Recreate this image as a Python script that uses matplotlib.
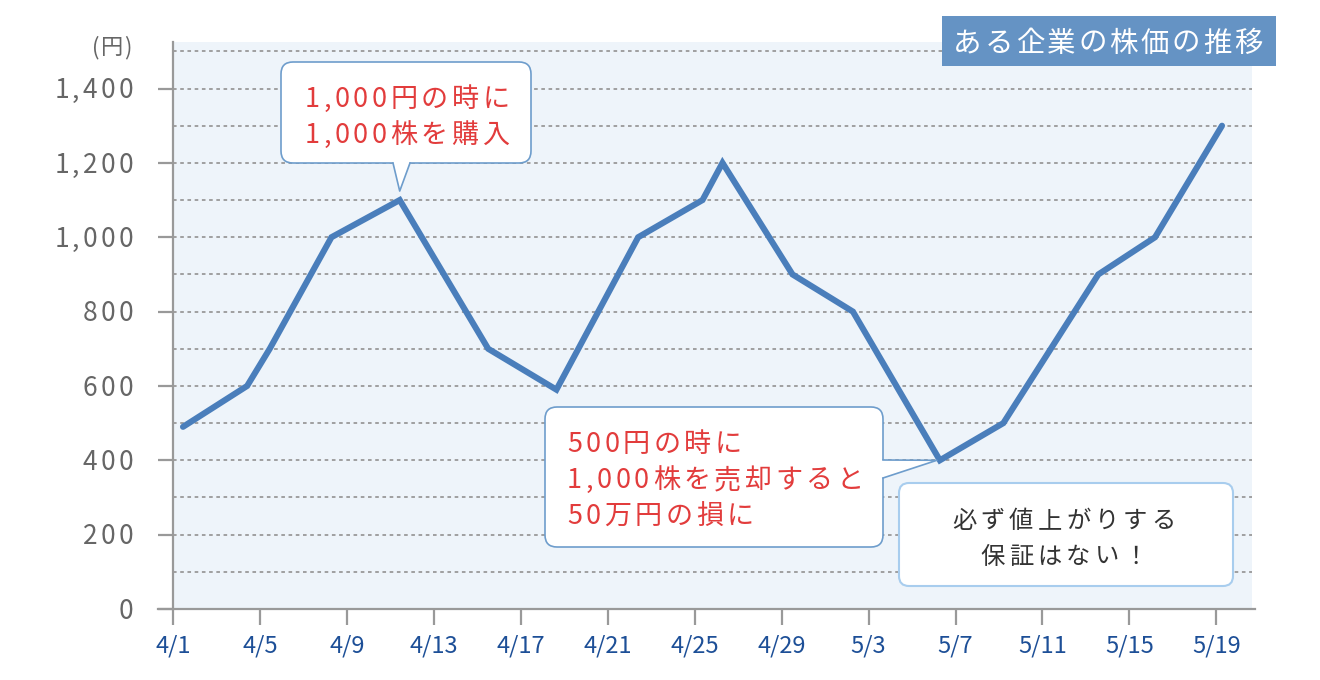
import numpy as np
import matplotlib
matplotlib.use('Agg')
import matplotlib.pyplot as plt
from matplotlib.patches import FancyBboxPatch, Polygon, Rectangle
from matplotlib.font_manager import FontProperties, findfont, get_font

plt.rcParams['font.family'] = ['Noto Sans CJK JP', 'DejaVu Sans']

# days counted from 4/1
day_pos = [0.46, 3.41, 4.45, 7.29, 10.43, 14.5, 17.64, 21.4, 24.36, 25.28,
           28.5, 31.28, 35.28, 38.2, 42.57, 45.18, 48.26]
price = [490, 600, 700, 1000, 1100, 700, 590, 1000, 1100, 1200,
         900, 800, 400, 500, 900, 1000, 1300]

tick_days = [0, 4, 8, 12, 16, 20, 24, 28, 32, 36, 40, 44, 48]
tick_labels = ['4/1', '4/5', '4/9', '4/13', '4/17', '4/21', '4/25',
               '4/29', '5/3', '5/7', '5/11', '5/15', '5/19']
y_ticks = [0, 200, 400, 600, 800, 1000, 1200, 1400]

title = 'ある企業の株価の推移'
buy_note = ['1,000円の時に', '1,000株を購入']
sell_note = ['500円の時に', '1,000株を売却すると', '50万円の損に']
warn_note = ['必ず値上がりする', '保証はない！']
buy_idx = 4
sell_idx = 12

W, H = 1320, 680
fig = plt.figure(figsize=(W / 100, H / 100), dpi=100)
fig.patch.set_facecolor('white')

# plot area in pixels: left 173, right 1252, top 41.7, bottom 609
ax = fig.add_axes([173 / W, 1 - 609 / H, (1252 - 173) / W, (609 - 41.7) / H])
ax.set_facecolor('#eef4fa')
ax.set_xlim(0, 49.64)
ax.set_ylim(0, 1526)

for v in range(100, 1501, 100):
    ax.axhline(v, color='#999999', lw=1.3, ls=(0, (2, 2)), zorder=1)

ax.plot(day_pos, price, color='#4a7ebb', lw=4.4, solid_joinstyle='miter',
        solid_capstyle='round', zorder=3)

for s in ['top', 'right', 'bottom']:
    ax.spines[s].set_visible(False)
ax.spines['left'].set_color('#999999')
ax.spines['left'].set_linewidth(1.6)
ax.axhline(0, xmin=-0.014, xmax=1.003, color='#999999', lw=1.6,
           clip_on=False, zorder=4)

ax.set_xticks(tick_days)
ax.set_xticklabels(tick_labels)
ax.set_yticks(y_ticks)
ax.set_yticklabels([])
ax.tick_params(axis='x', direction='out', length=11.5, width=1.6,
               color='#999999', labelcolor='#1d4f97', labelsize=17, pad=7)
ax.tick_params(axis='y', direction='out', length=11, width=1.6,
               color='#999999')

# overlay in pixel coordinates (y down) for the labels and callouts
ov = fig.add_axes([0, 0, 1, 1], zorder=10)
ov.set_xlim(0, W)
ov.set_ylim(H, 0)
ov.axis('off')

jp = FontProperties(family='Noto Sans CJK JP')
ft = get_font(findfont(jp))


def to_px(x, y):
    p = ax.transData.transform((x, y))
    return ov.transData.inverted().transform(p)


# text with letter spacing, drawn one character at a time; y is the line centre
def spaced(x, y, s, size, color, gap, ha='left', zorder=5):
    ft.set_size(size, 100)
    adv = [ft.load_char(ord(c)).linearHoriAdvance / 65536 for c in s]
    total = sum(adv) + gap * (len(s) - 1)
    if ha == 'center':
        x -= total / 2
    elif ha == 'right':
        x -= total
    base = y + 0.37 * size * 100 / 72
    for c, a in zip(s, adv):
        ov.text(x, base, c, ha='left', va='baseline', fontsize=size,
                color=color, fontproperties=jp, zorder=zorder)
        x += a + gap


for v in y_ticks:
    _, py = to_px(0, v)
    spaced(133, py, f'{v:,}', 19, '#666666', 3.2, ha='right')

spaced(112, 46, '(円)', 16, '#666666', 1, ha='center')

# title box
ov.add_patch(Rectangle((942, 16), 334, 50, facecolor='#6593c4',
                       edgecolor='none'))
spaced(1108, 41, title, 20.5, 'white', 2.8, ha='center')

red = '#e23c3c'
edge = '#6e9dcc'

# callout 1 (pointer goes down to the buy point)
bx, by = to_px(day_pos[buy_idx], price[buy_idx])
ov.add_patch(FancyBboxPatch((281, 62), 250, 101,
                            boxstyle='round,pad=0,rounding_size=12',
                            facecolor='white', edgecolor=edge, lw=1.2,
                            zorder=2))
tip = (bx, by - 9)
ov.add_patch(Polygon([(393, 161), tip, (410, 161)], closed=True,
                     facecolor='white', edgecolor='none', zorder=3))
ov.plot([393, tip[0], 410], [163, tip[1], 163], color=edge, lw=1.2,
        zorder=4)
for i, line in enumerate(buy_note):
    spaced(407, 97 + 36 * i, line, 19.5, red, 3.6, ha='center')

# callout 2 (pointer goes right to the sell point)
sx, sy = to_px(day_pos[sell_idx], price[sell_idx])
ov.add_patch(FancyBboxPatch((545, 407), 338, 140,
                            boxstyle='round,pad=0,rounding_size=12',
                            facecolor='white', edgecolor=edge, lw=1.2,
                            zorder=2))
tip2 = (sx - 3, sy)
ov.add_patch(Polygon([(881, 460), tip2, (881, 478)], closed=True,
                     facecolor='white', edgecolor='none', zorder=3))
ov.plot([883, tip2[0], 883], [460, tip2[1], 478], color=edge, lw=1.2,
        zorder=4)
for i, line in enumerate(sell_note):
    spaced(567, 442 + 36 * i, line, 19.5, red, 3.6)

# note box
ov.add_patch(FancyBboxPatch((899, 483), 334, 103,
                            boxstyle='round,pad=0,rounding_size=10',
                            facecolor='white', edgecolor='#a8cdee', lw=1.5,
                            zorder=2))
for i, line in enumerate(warn_note):
    spaced(1064, 519 + 36 * i, line, 17.5, '#333333', 4.2, ha='center')

fig.savefig('out.png', dpi=100, facecolor='white')
